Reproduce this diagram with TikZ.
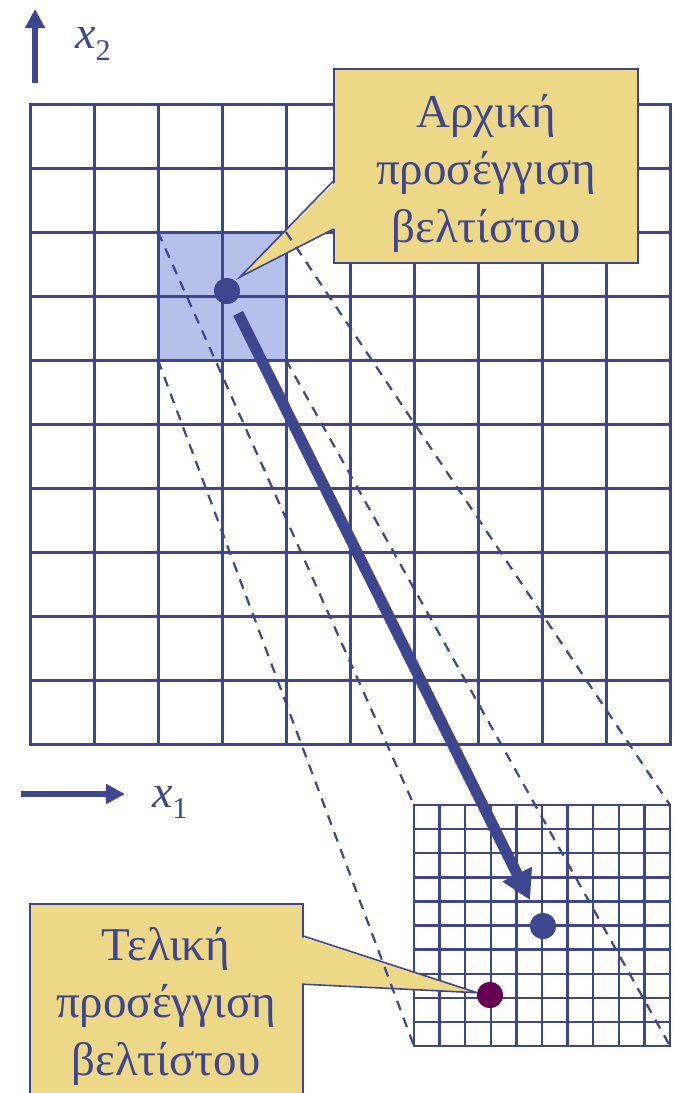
\documentclass[tikz,border=0pt]{standalone}
\usepackage{fontspec}
\setmainfont{Liberation Serif}
\usetikzlibrary{arrows.meta,calc}
\definecolor{navy}{HTML}{3F4690}
\definecolor{hilite}{HTML}{B7C0EB}
\definecolor{callfill}{HTML}{ECD886}
\definecolor{purp}{HTML}{660055}
\begin{document}
\begin{tikzpicture}[x=1pt,y=-1pt,
  gridline/.style={navy, line width=3pt, line cap=rect},
  finegrid/.style={navy, line width=2.4pt, line cap=rect},
  dashline/.style={navy, line width=2.2pt, dash pattern=on 10pt off 8pt},
  callbox/.style={draw=navy, fill=callfill, line width=1.6pt, rectangle, inner sep=0pt},
  calltail/.style={draw=navy, line width=1.6pt, line join=miter},
  calltext/.style={text=navy, font=\fontsize{47}{52}\selectfont, anchor=base, inner sep=0pt},
  dot/.style={circle, fill=navy, minimum size=26pt, inner sep=0pt},
  bigarrow/.style={navy, line width=11pt, -{Triangle[length=29pt,width=31pt]}},
  axarrow/.style={navy, line width=6pt, -{Triangle[length=19pt,width=19pt]}},
  axlabel/.style={text=navy, anchor=base west, inner sep=0pt},
]
\clip (0,0) rectangle (675,1093);
\fill[white] (0,0) rectangle (675,1093);

% highlighted cell block
\fill[hilite] (158,232) rectangle (286,360);
% big grid
\foreach \i in {0,...,10} {
  \draw[gridline] ({30+64*\i},104) -- ({30+64*\i},744);
  \draw[gridline] (30,{104+64*\i}) -- (670,{104+64*\i});
}
% small grid
\foreach \i in {0,...,10} {
  \draw[finegrid] ({414+25.6*\i},805) -- ({414+25.6*\i},1046);
  \draw[finegrid] (414,{805+24.1*\i}) -- (670,{805+24.1*\i});
}

% coordinates of the corners
\coordinate (hnw) at (158,232);
\coordinate (hne) at (286,232);
\coordinate (hsw) at (158,360);
\coordinate (hse) at (286,360);
\coordinate (snw) at (414,805);
\coordinate (sne) at (670,805);
\coordinate (ssw) at (414,1046);
\coordinate (sse) at (670,1046);

% dots
\node[dot] (d1) at (227,291) {};
\node[dot] (d2) at (543,926) {};
\node[dot, fill=purp] (d3) at (490,995) {};

% top callout
\node[callbox, minimum width=304pt, minimum height=194pt] (c1) at (486,166) {};
\coordinate (c1a) at ($(c1.north west)+(0,113)$);
\coordinate (c1b) at ($(c1.north west)+(0,161)$);
\coordinate (c1tip) at ($(d1.center)+(13,-14)$);
\fill[callfill] ($(c1a)+(2,1)$) -- (c1tip) -- ($(c1b)+(2,-1)$) -- cycle;
\draw[calltail] (c1a) -- (c1tip) -- (c1b);
\node[calltext] (t1a) at (486,127) {Αρχική};
\node[calltext] (t1b) at (486,184.5) {προσέγγιση};
\node[calltext] (t1c) at (486,242) {βελτίστου};

% bottom callout
\node[callbox, minimum width=273pt, minimum height=216pt] (c2) at (166.5,1012) {};
\coordinate (c2a) at ($(c2.north east)+(0,33)$);
\coordinate (c2b) at ($(c2.north east)+(0,81)$);
\fill[callfill] ($(c2a)+(-2,1)$) -- (d3.170) -- ($(c2b)+(-2,-1)$) -- cycle;
\draw[calltail] (c2a) -- (d3.170) -- (c2b);
\node[calltext] (t2a) at (166,960) {Τελική};
\node[calltext] (t2b) at (166,1017.5) {προσέγγιση};
\node[calltext] (t2c) at (166,1075) {βελτίστου};

% dashed projection lines
\draw[dashline] (hnw) -- (snw);
\draw[dashline] (hne) -- (sne);
\draw[dashline] (hsw) -- (ssw);
\draw[dashline] (hse) -- (sse);

% big arrow
\draw[bigarrow, shorten <=25pt, shorten >=29pt] (d1.center) -- (d2.center);
% redraw dots on top
\node[dot] at (d1) {};
\node[dot] at (d2) {};
\node[dot, fill=purp] at (d3) {};

% axes
\coordinate (a2s) at (35,83);
\coordinate (a2e) at (35,9);
\draw[axarrow] (a2s) -- (a2e);
\node[axlabel] (lx2) at (75,48) {{\fontsize{46}{46}\selectfont\itshape x}{\fontsize{30}{30}\selectfont\raisebox{-12pt}{2}}};
\coordinate (a1s) at (21,794);
\coordinate (a1e) at (125,794);
\draw[axarrow] (a1s) -- (a1e);
\node[axlabel] (lx1) at (152,807) {{\fontsize{46}{46}\selectfont\itshape x}{\fontsize{30}{30}\selectfont\raisebox{-11pt}{1}}};
\end{tikzpicture}
\end{document}
